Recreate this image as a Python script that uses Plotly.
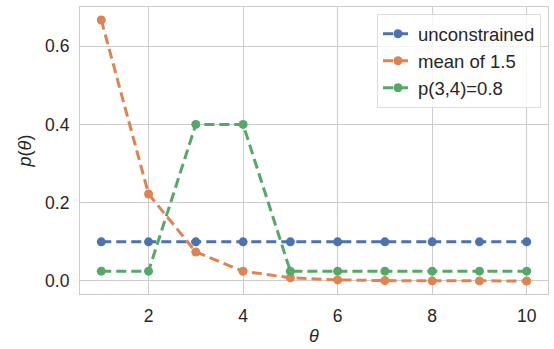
import plotly.graph_objects as go

theta = [1, 2, 3, 4, 5, 6, 7, 8, 9, 10]
unconstrained = [0.1] * 10
mean_15 = [0.6667, 0.2222, 0.0741, 0.0247, 0.0082, 0.0027, 0.0009, 0.0003, 0.0001, 0.00003]
p34 = [0.025, 0.025, 0.4, 0.4, 0.025, 0.025, 0.025, 0.025, 0.025, 0.025]

names = ["unconstrained", "mean of 1.5", "p(3,4)=0.8"]
colors = ["#4C72B0", "#DD8452", "#55A868"]
series = [unconstrained, mean_15, p34]

fig = go.Figure()
for n, c, s in zip(names, colors, series):
    fig.add_trace(go.Scatter(
        x=theta, y=s, name=n, mode="lines+markers",
        line=dict(color=c, width=3, dash="10px,5px"),
        marker=dict(color=c, size=9),
    ))

font = "Liberation Sans, Arial, sans-serif"
fig.update_layout(
    width=554, height=349,
    margin=dict(l=80, r=6, t=7, b=55),
    plot_bgcolor="white", paper_bgcolor="white",
    font=dict(family=font, size=17.5, color="#262626"),
    showlegend=True,
    legend=dict(x=0.985, y=0.975, xanchor="right", yanchor="top",
                bordercolor="#dddddd", borderwidth=1, bgcolor="rgba(255,255,255,0.8)",
                font=dict(size=18.5, color="#262626"), tracegroupgap=0, itemwidth=30),
    xaxis=dict(range=[0.55, 10.45], tickvals=[2, 4, 6, 8, 10],
               showgrid=True, gridcolor="#cccccc", gridwidth=1,
               showline=True, linecolor="#cccccc", linewidth=1.2, mirror=True,
               zeroline=False, ticks="outside", ticklen=6, tickcolor="rgba(0,0,0,0)",
               title=dict(text="<i>θ</i>", font=dict(size=18), standoff=4)),
    yaxis=dict(range=[-0.0333, 0.7], tickvals=[0.0, 0.2, 0.4, 0.6], tickformat=".1f",
               showgrid=True, gridcolor="#cccccc", gridwidth=1,
               showline=True, linecolor="#cccccc", linewidth=1.2, mirror=True,
               zeroline=False, ticks="outside", ticklen=6, tickcolor="rgba(0,0,0,0)",
               title=dict(text="<i>p</i>(<i>θ</i>)", font=dict(size=18), standoff=8)),
)

fig.write_html("out.html")
